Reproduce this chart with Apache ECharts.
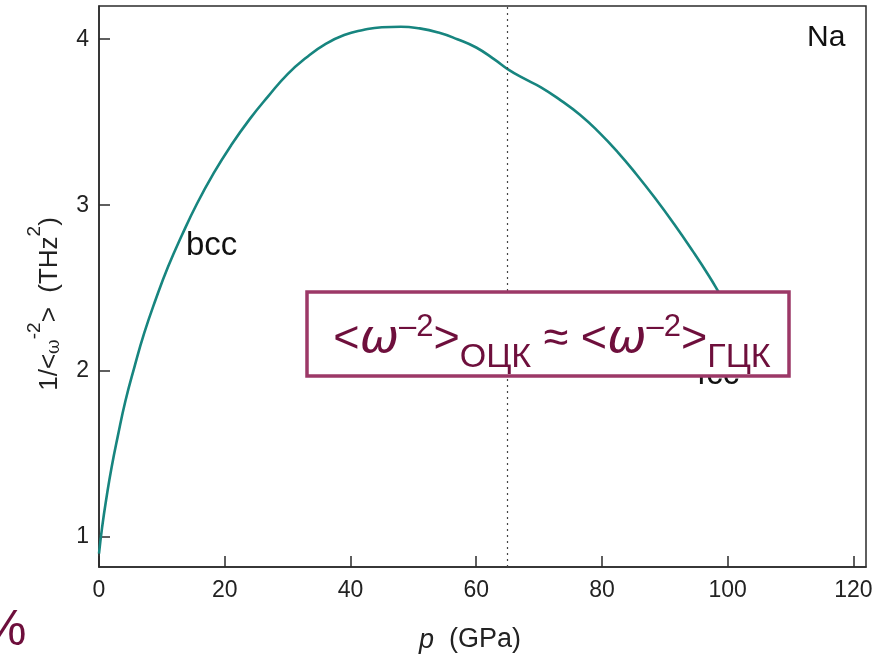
<!DOCTYPE html>
<html>
<head>
<meta charset="utf-8">
<script src="https://cdn.jsdelivr.net/npm/echarts@6/dist/echarts.min.js"></script>
<style>
  html, body { margin: 0; padding: 0; background: #fff; }
  #chart { width: 879px; height: 660px; }
</style>
</head>
<body>
<div id="chart"></div>
<script>
// Pressure p (GPa) and 1/<omega^-2> (THz^2) for Na
const pressure = [0, 0.5, 1.2, 2, 3, 4.2, 5.6, 7.2, 9, 11, 13.2, 15.6, 18.2, 21, 24, 27, 30, 33, 36, 39, 42, 45, 48, 51, 54, 57, 60, 63, 65, 67.5, 70.3, 73.5, 76.5, 79.5, 82.5, 85.5, 88.5, 91.5, 94.5, 97, 98.5, 100];
const invOmega2 = [0.90, 1.06, 1.24, 1.42, 1.61, 1.82, 2.02, 2.23, 2.43, 2.63, 2.82, 3.01, 3.19, 3.36, 3.52, 3.66, 3.79, 3.89, 3.97, 4.025, 4.055, 4.072, 4.075, 4.065, 4.04, 4.0, 3.95, 3.875, 3.82, 3.765, 3.71, 3.63, 3.545, 3.44, 3.32, 3.185, 3.04, 2.885, 2.72, 2.575, 2.48, 2.38];

const xTicks = [0, 20, 40, 60, 80, 100, 120];
const yTicks = [1, 2, 3, 4];
const transitionP = 65;

const curve = pressure.map((p, i) => [p, invOmega2[i]]);

const chart = echarts.init(document.getElementById('chart'));
const axisFont = 'Liberation Sans, Arial, sans-serif';
const tickFont = 'Liberation Sans Narrow, Arial Narrow, Liberation Sans, sans-serif';
const frame = '#2b2b2b';
const maroon = '#6e0f3c';

chart.setOption({
  animation: false,
  backgroundColor: '#ffffff',
  grid: {
    left: 99, right: 13, top: 6, bottom: 93,
    show: true, borderColor: frame, borderWidth: 1.5
  },
  xAxis: {
    type: 'value', min: 0, max: 122,
    axisLine: { show: true, onZero: false, lineStyle: { color: frame, width: 1.5 } },
    axisTick: { show: true, inside: true, length: 11, customValues: xTicks, lineStyle: { color: frame, width: 1.5 } },
    axisLabel: { customValues: xTicks, margin: 12, color: '#222', fontSize: 23, fontFamily: tickFont },
    splitLine: { show: false }
  },
  yAxis: {
    type: 'value', min: 0.82, max: 4.2,
    axisLine: { show: true, onZero: false, lineStyle: { color: frame, width: 1.5 } },
    axisTick: { show: true, inside: true, length: 11, customValues: yTicks, lineStyle: { color: frame, width: 1.5 } },
    axisLabel: { customValues: yTicks, margin: 10, color: '#222', fontSize: 23, fontFamily: tickFont },
    splitLine: { show: false }
  },
  series: [{
    type: 'line',
    data: curve,
    smooth: 0.5,
    showSymbol: false,
    lineStyle: { color: '#17857f', width: 2.6 },
    z: 2,
    markLine: {
      silent: true,
      symbol: 'none',
      label: { show: false },
      lineStyle: { color: '#444', width: 1.2, type: [2, 4] },
      data: [{ xAxis: transitionP }]
    }
  }],
  graphic: [
    {
      type: 'text', left: 807, top: 23, z: 5,
      style: { text: 'Na', fontSize: 30, fontFamily: axisFont, fill: '#111' }
    },
    {
      type: 'text', left: 186, top: 229, z: 5,
      style: { text: 'bcc', fontSize: 33, fontFamily: axisFont, fill: '#111' }
    },
    {
      type: 'text', left: 697, top: 358, z: 5,
      style: { text: 'fcc', fontSize: 33, fontFamily: axisFont, fill: '#111' }
    },
    {
      // axis title for y, rotated
      type: 'text', x: 44, y: 304, rotation: Math.PI / 2, z: 5,
      style: {
        text: '{n|1/<}{w|ω}{sup|-2}{n|>  (THz}{sup|2}{n|)}',
        align: 'center', verticalAlign: 'middle',
        rich: {
          n: { fontSize: 26, fontFamily: axisFont, fill: '#222', lineHeight: 38, verticalAlign: 'bottom' },
          w: { fontSize: 18, fontFamily: 'DejaVu Serif, serif', fill: '#222', lineHeight: 38, verticalAlign: 'bottom' },
          sup: { fontSize: 19, fontFamily: axisFont, fill: '#222', lineHeight: 38, verticalAlign: 'top' }
        }
      }
    },
    {
      type: 'text', x: 470, y: 640, z: 5,
      style: {
        text: '{i|p}{n|  (GPa)}',
        align: 'center', verticalAlign: 'middle',
        rich: {
          i: { fontSize: 27, fontFamily: axisFont, fontStyle: 'italic', fill: '#222' },
          n: { fontSize: 27, fontFamily: axisFont, fill: '#222' }
        }
      }
    },
    {
      type: 'rect', z: 10,
      shape: { x: 307, y: 292, width: 482, height: 84 },
      style: { fill: '#ffffff', stroke: '#9c3867', lineWidth: 3.5 }
    },
    {
      type: 'text', x: 552, y: 340, z: 11,
      style: {
        text: '{m|<}{w|ω}{sup|–2}{m|>}{sub|ОЦК}{m| ≈ <}{w|ω}{sup|–2}{m|>}{sub|ГЦК}',
        align: 'center', verticalAlign: 'middle',
        rich: {
          m: { fontSize: 45, fontFamily: axisFont, fill: maroon, lineHeight: 78, verticalAlign: 'middle' },
          w: { fontSize: 47, fontFamily: 'DejaVu Sans, sans-serif', fontStyle: 'italic', fill: maroon, lineHeight: 78, verticalAlign: 'middle' },
          sup: { fontSize: 31, fontFamily: axisFont, fill: maroon, lineHeight: 78, verticalAlign: 'top', padding: [11, 0, 0, 0] },
          sub: { fontSize: 34, fontFamily: axisFont, fill: maroon, lineHeight: 78, verticalAlign: 'bottom', padding: [0, 0, 4, 0] }
        }
      }
    },
    {
      type: 'text', left: -18, top: 606, z: 5,
      style: { text: '%', fontSize: 50, fontFamily: axisFont, fill: maroon }
    }
  ]
});
</script>
</body>
</html>
